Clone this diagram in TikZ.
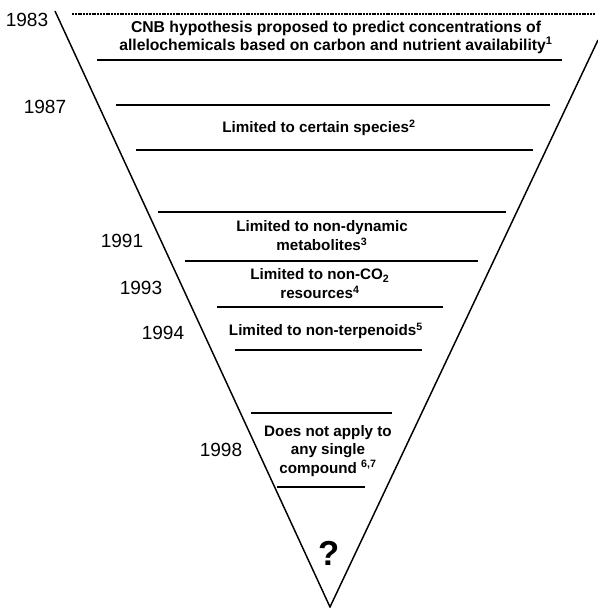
\documentclass[tikz,border=0pt]{standalone}
\usepackage{fontspec}
\setmainfont{Liberation Sans}
\begin{document}
\begin{tikzpicture}[x=0.75pt,y=-0.75pt,
  sep/.style={line width=1.1pt},
  side/.style={line width=1.1pt},
  lbl/.style={font=\fontsize{11.4}{13.6}\selectfont\bfseries, align=center, inner sep=0pt},
  yr/.style={font=\fontsize{14.3}{16}\selectfont, inner sep=0pt}]
\useasboundingbox (0,0) rectangle (598,608);
% funnel sides
\coordinate (tl) at (55,11);
\coordinate (apex) at (330,607);
\coordinate (tr) at (598,40);
\draw[side] (tl) -- (apex) -- (tr);
% separators
\draw[line width=0.8pt, dash pattern=on 1.5pt off 0.6pt] (72,14) -- (595,14);
\draw[sep] (97,60) -- (562,60);
\draw[sep] (116,105) -- (550,105);
\draw[sep] (136,150) -- (533,150);
\draw[sep] (158,212) -- (506,212);
\draw[sep] (185,261) -- (478,261);
\draw[sep] (217,307) -- (443,307);
\draw[sep] (235,350) -- (422,350);
\draw[sep] (251,413) -- (392,413);
\draw[sep] (277,487) -- (365,487);
% labels
\node[lbl, font=\fontsize{11.8}{13.6}\selectfont\bfseries] (t1) at (336,37) {CNB hypothesis proposed to predict concentrations of\\allelochemicals based on carbon and nutrient availability\textsuperscript{1}};
\node[lbl] (t2) at (319,128) {Limited to certain species\textsuperscript{2}};
\node[lbl, font=\fontsize{11.4}{14.3}\selectfont\bfseries] (t3) at (322,236) {Limited to non-dynamic\\metabolites\textsuperscript{3}};
\node[lbl, font=\fontsize{11.4}{14.3}\selectfont\bfseries] (t4) at (320,284) {Limited to non-CO\textsubscript{2}\\resources\textsuperscript{4}};
\node[lbl] (t5) at (326,331) {Limited to non-terpenoids\textsuperscript{5}};
\node[lbl] (t6) at (328,451) {Does not apply to\\any single\\compound \textsuperscript{6,7}};
\node[font=\fontsize{26}{28}\selectfont\bfseries, inner sep=0pt] (q) at (329,553) {?};
% years
\node[yr] (y1) at (27,20) {1983};
\node[yr] (y2) at (45,107) {1987};
\node[yr] (y3) at (122,241) {1991};
\node[yr] (y4) at (141,288) {1993};
\node[yr] (y5) at (163,333) {1994};
\node[yr] (y6) at (221,450) {1998};
\end{tikzpicture}
\end{document}
